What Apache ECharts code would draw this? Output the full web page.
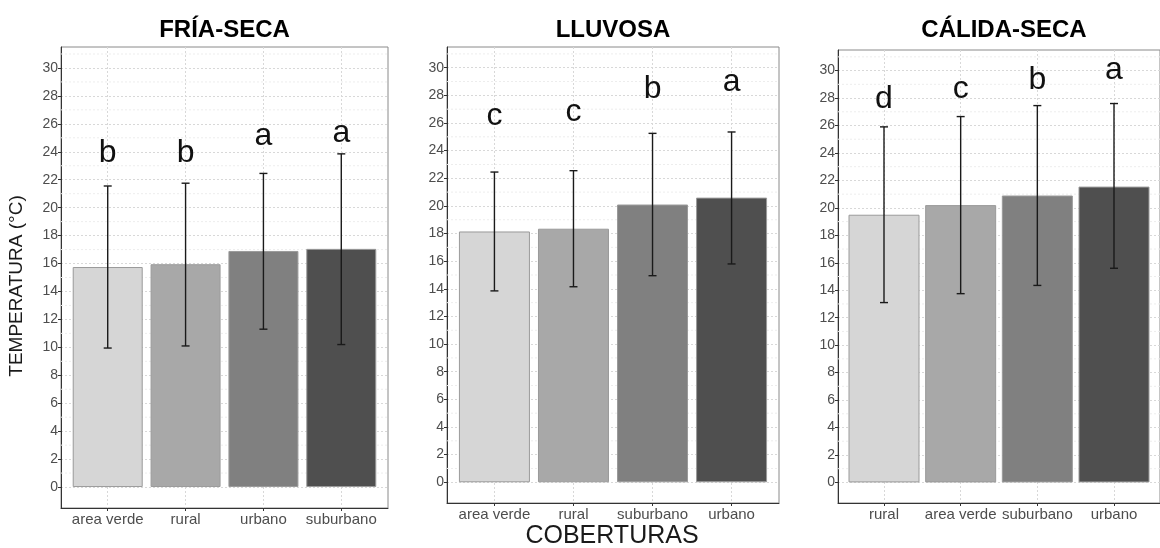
<!DOCTYPE html>
<html>
<head>
<meta charset="utf-8">
<script src="https://cdn.jsdelivr.net/npm/echarts@6/dist/echarts.min.js"></script>
<style>html,body{margin:0;padding:0;background:#fff;}#c{width:1160px;height:548px;}</style>
</head>
<body>
<div id="c"></div>
<script>
// ---- data ----
var titles = ['FRÍA-SECA', 'LLUVOSA', 'CÁLIDA-SECA'];
var cats1 = ['area verde', 'rural', 'urbano', 'suburbano'];
var cats2 = ['area verde', 'rural', 'suburbano', 'urbano'];
var cats3 = ['rural', 'area verde', 'suburbano', 'urbano'];
var mean1 = [15.75, 15.95, 16.9, 17.05];
var mean2 = [18.15, 18.35, 20.1, 20.6];
var mean3 = [19.5, 20.2, 20.9, 21.55];
var upper1 = [21.55, 21.75, 22.45, 23.85];
var upper2 = [22.45, 22.55, 25.25, 25.35];
var upper3 = [25.9, 26.65, 27.45, 27.6];
var lower1 = [9.95, 10.1, 11.3, 10.2];
var lower2 = [13.85, 14.15, 14.95, 15.8];
var lower3 = [13.1, 13.75, 14.35, 15.6];
var letters1 = ['b', 'b', 'a', 'a'];
var letters2 = ['c', 'c', 'b', 'a'];
var letters3 = ['d', 'c', 'b', 'a'];
var letterY1 = [23.2, 23.2, 24.4, 24.6];
var letterY2 = [25.8, 26.05, 27.7, 28.2];
var letterY3 = [27.2, 27.95, 28.6, 29.3];
var yTicks = [0, 2, 4, 6, 8, 10, 12, 14, 16, 18, 20, 22, 24, 26, 28, 30];
var yMinor = [1, 3, 5, 7, 9, 11, 13, 15, 17, 19, 21, 23, 25, 27, 29, 31];
var xPos = [1, 2, 3, 4];
var yLabel = 'TEMPERATURA (°C)';
var xLabel = 'COBERTURAS';

// ---- styles / layout ----
var FONT = '"Liberation Sans", Arial, Helvetica, sans-serif';
var fills = ['#d6d6d6', '#a8a8a8', '#808080', '#4f4f4f'];
var grids = [
  {left: 61, top: 47, width: 327, height: 461},
  {left: 447, top: 47, width: 332, height: 456},
  {left: 838, top: 50, width: 332, height: 453}
];
var panels = [
  {cats: cats1, mean: mean1, up: upper1, lo: lower1, let: letters1, ly: letterY1},
  {cats: cats2, mean: mean2, up: upper2, lo: lower2, let: letters2, ly: letterY2},
  {cats: cats3, mean: mean3, up: upper3, lo: lower3, let: letters3, ly: letterY3}
];

var option = {
  animation: false,
  backgroundColor: '#fff',
  textStyle: {fontFamily: FONT},
  grid: [], xAxis: [], yAxis: [], series: [], graphic: []
};

panels.forEach(function (p, i) {
  var g = grids[i];
  option.grid.push({left: g.left, top: g.top, width: g.width, height: g.height,
    show: true, borderColor: '#8a8a8a', borderWidth: 1, backgroundColor: '#fff', containLabel: false});
  option.xAxis.push({
    type: 'value', gridIndex: i, min: 0.4, max: 4.6,
    axisLine: {show: true, onZero: false, lineStyle: {color: '#333', width: 1}},
    axisTick: {show: true, customValues: xPos, length: 3, lineStyle: {color: '#333'}},
    axisLabel: {customValues: xPos, color: '#4d4d4d', fontSize: 15, margin: 4, fontFamily: FONT,
      formatter: (function (cats) { return function (v) { return cats[Math.round(v) - 1] || ''; }; })(p.cats)},
    splitLine: {show: true, lineStyle: {color: '#d8d8d8', type: [2, 2], width: 1}}
  });
  option.yAxis.push({
    type: 'value', gridIndex: i, min: -1.5, max: 31.5,
    axisLine: {show: true, onZero: false, lineStyle: {color: '#333', width: 1}},
    axisTick: {show: true, customValues: yTicks, length: 3, lineStyle: {color: '#333'}},
    axisLabel: {customValues: yTicks, color: '#4d4d4d', fontSize: 14, margin: 3, fontFamily: FONT},
    splitLine: {show: true, lineStyle: {color: '#d8d8d8', type: [2, 2], width: 1}}
  });
  // minor grid lines
  option.series.push({
    type: 'custom', xAxisIndex: i, yAxisIndex: i, z: 1, silent: true,
    data: yMinor.map(function (v) { return [0.4, v]; }),
    renderItem: function (params, api) {
      var a = api.coord([0.4, api.value(1)]);
      var b = api.coord([4.6, api.value(1)]);
      return {type: 'line', shape: {x1: a[0], y1: a[1], x2: b[0], y2: b[1]},
        style: {stroke: '#ededed', lineWidth: 1, lineDash: [2, 2]}};
    }
  });
  // bars
  option.series.push({
    type: 'bar', xAxisIndex: i, yAxisIndex: i, z: 2,
    barWidth: Math.round(0.9 * g.width / 4.2),
    data: p.mean.map(function (v, k) {
      return {value: [xPos[k], v], itemStyle: {color: fills[k], borderColor: '#9a9a9a', borderWidth: 1}};
    })
  });
  // error bars
  option.series.push({
    type: 'custom', xAxisIndex: i, yAxisIndex: i, z: 3,
    data: p.mean.map(function (v, k) { return [xPos[k], p.lo[k], p.up[k]]; }),
    renderItem: function (params, api) {
      var lo = api.coord([api.value(0), api.value(1)]);
      var hi = api.coord([api.value(0), api.value(2)]);
      var w = 4;
      var st = {stroke: '#1a1a1a', lineWidth: 1.4};
      return {type: 'group', children: [
        {type: 'line', shape: {x1: lo[0], y1: lo[1], x2: hi[0], y2: hi[1]}, style: st},
        {type: 'line', shape: {x1: lo[0] - w, y1: lo[1], x2: lo[0] + w, y2: lo[1]}, style: st},
        {type: 'line', shape: {x1: hi[0] - w, y1: hi[1], x2: hi[0] + w, y2: hi[1]}, style: st}
      ]};
    }
  });
  // letters
  option.series.push({
    type: 'custom', xAxisIndex: i, yAxisIndex: i, z: 4,
    data: p.ly.map(function (v, k) { return [xPos[k], v, k]; }),
    renderItem: (function (lets) {
      return function (params, api) {
        var c = api.coord([api.value(0), api.value(1)]);
        return {type: 'text', x: c[0], y: c[1] + 6,
          style: {text: lets[api.value(2)], fontSize: 32, fontFamily: FONT, fill: '#111',
            align: 'center', verticalAlign: 'bottom'}};
      };
    })(p.let)
  });
  option.graphic.push({type: 'text', x: g.left + g.width / 2, y: 30,
    style: {text: titles[i], font: 'bold 24px ' + FONT, fill: '#000', textAlign: 'center', textVerticalAlign: 'middle'}});
});

option.graphic.push({type: 'text', x: 17, y: 286, rotation: Math.PI / 2,
  style: {text: yLabel, font: '19px ' + FONT, fill: '#1a1a1a', textAlign: 'center', textVerticalAlign: 'middle'}});
option.graphic.push({type: 'text', x: 612, y: 536,
  style: {text: xLabel, font: '25px ' + FONT, fill: '#1a1a1a', textAlign: 'center', textVerticalAlign: 'middle'}});

var chart = echarts.init(document.getElementById('c'), null, {renderer: 'canvas'});
chart.setOption(option);
</script>
</body>
</html>
